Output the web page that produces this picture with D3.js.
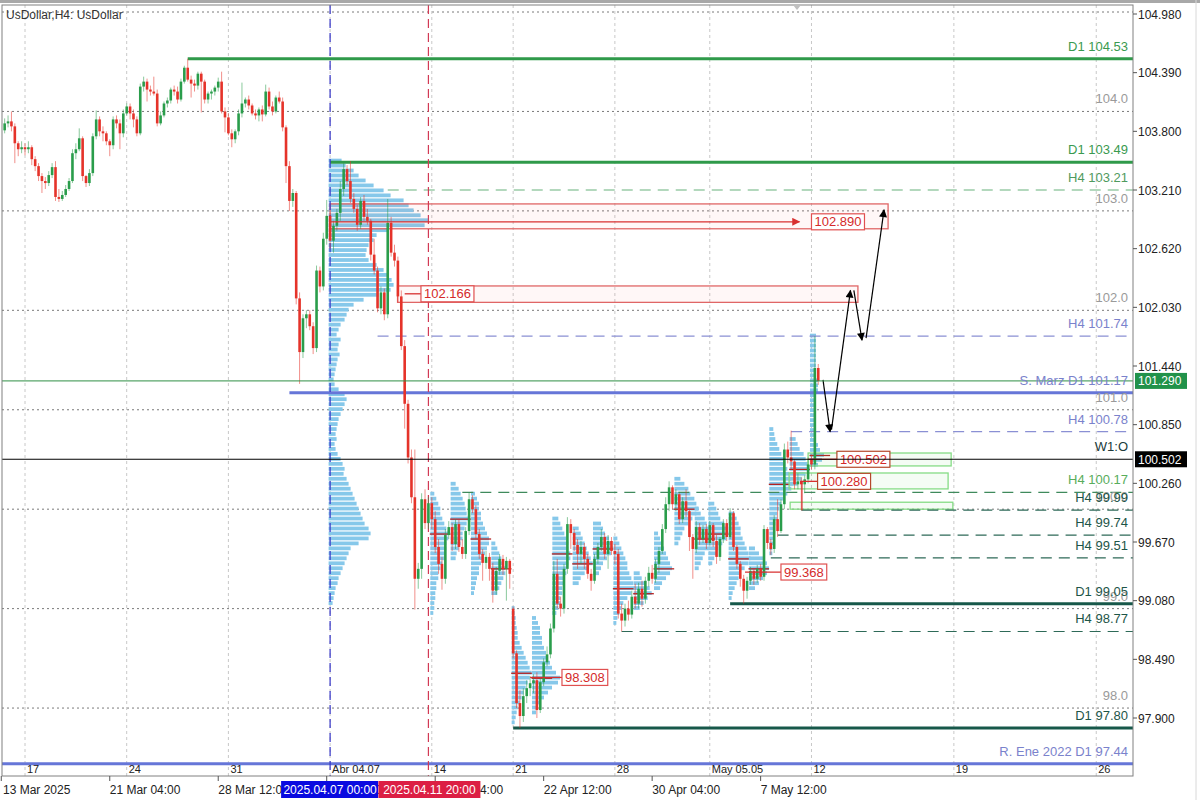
<!DOCTYPE html>
<html>
<head>
<meta charset="utf-8">
<title>UsDollar H4</title>
<script src="https://cdn.jsdelivr.net/npm/d3@7/dist/d3.min.js"></script>
<style>
  body { margin: 0; background: #fff; }
  svg { display: block; }
  text { font-family: "Liberation Sans", Arial, sans-serif; }
  .narrow { font-family: "Liberation Sans Narrow", "Arial Narrow", "DejaVu Sans Condensed", sans-serif; }
</style>
</head>
<body>
<svg id="chart" width="1200" height="800"></svg>
<script>
// H4 bars as [open, high, low, close], first bar index is -6 (13 Mar, 16:00)
var firstBar = -6;

var barsMar13 = [
  [103.81,103.93,103.78,103.88],[103.88,103.96,103.84,103.90],[103.90,104.00,103.80,103.85],
  [103.85,103.88,103.48,103.68],[103.68,103.70,103.55,103.62],[103.62,103.70,103.58,103.64]
];
var barsMar17 = [
  [103.64,103.68,103.56,103.62],[103.62,103.70,103.58,103.64],[103.64,103.66,103.46,103.52],
  [103.52,103.55,103.40,103.45],[103.45,103.48,103.30,103.35],[103.35,103.38,103.18,103.30],
  [103.30,103.34,103.22,103.28],[103.28,103.40,103.25,103.36],[103.36,103.48,103.33,103.44],
  [103.44,103.50,103.10,103.14],[103.14,103.22,103.09,103.12],[103.12,103.20,103.10,103.16],
  [103.16,103.26,103.14,103.22],[103.22,103.33,103.20,103.30],[103.30,103.62,103.28,103.58],
  [103.58,103.68,103.52,103.62],[103.62,103.83,103.60,103.73],[103.73,103.75,103.30,103.35],
  [103.35,103.36,103.24,103.28],[103.28,103.42,103.25,103.38],[103.38,103.78,103.35,103.75],
  [103.75,104.01,103.72,103.92],[103.92,103.95,103.75,103.80],[103.80,103.85,103.70,103.78],
  [103.78,103.80,103.66,103.70],[103.70,103.72,103.55,103.66],[103.66,103.95,103.62,103.92],
  [103.92,103.96,103.83,103.88],[103.88,103.92,103.62,103.78],[103.78,104.02,103.74,103.98]
];
var barsMar24 = [
  [103.98,104.08,103.96,104.05],[104.05,104.08,103.92,103.98],[103.98,104.02,103.84,103.92],
  [103.92,103.95,103.75,103.78],[103.78,104.28,103.76,104.25],[104.25,104.35,104.20,104.30],
  [104.30,104.33,104.10,104.22],[104.22,104.26,104.16,104.20],[104.20,104.35,104.16,104.18],
  [104.18,104.22,103.85,103.88],[103.88,104.00,103.86,103.96],[103.96,104.10,103.94,104.08],
  [104.08,104.14,104.04,104.11],[104.11,104.24,104.08,104.22],[104.22,104.26,104.16,104.20],
  [104.20,104.25,104.08,104.12],[104.12,104.33,104.10,104.30],[104.30,104.46,104.28,104.44],
  [104.44,104.53,104.30,104.32],[104.32,104.36,104.14,104.28],[104.28,104.32,104.20,104.26],
  [104.26,104.40,104.22,104.38],[104.38,104.40,103.99,104.30],[104.30,104.32,104.08,104.12],
  [104.12,104.20,104.08,104.18],[104.18,104.22,104.12,104.20],[104.20,104.26,104.16,104.24],
  [104.24,104.34,104.20,104.30],[104.30,104.40,103.98,104.00],[104.00,104.04,103.79,103.94]
];
var barsMar31 = [
  [103.94,103.98,103.76,103.78],[103.78,103.82,103.64,103.72],[103.72,103.82,103.68,103.80],
  [103.80,104.02,103.76,103.98],[103.98,104.29,103.94,104.08],[104.08,104.14,104.04,104.12],
  [104.12,104.16,104.02,104.06],[104.06,104.08,103.96,103.98],[103.98,104.02,103.92,103.96],
  [103.96,104.04,103.90,104.02],[104.02,104.06,103.90,103.97],[103.97,104.27,103.95,104.20],
  [104.20,104.24,104.02,104.05],[104.05,104.10,103.96,104.00],[104.00,104.16,103.98,104.14],
  [104.14,104.20,104.08,104.10],[104.10,104.14,103.80,103.84],[103.84,103.86,103.28,103.45],
  [103.45,103.50,103.00,103.10],[103.10,103.22,103.04,103.18],[103.18,103.20,102.06,102.12],
  [102.12,102.18,101.26,101.58],[101.58,101.96,101.52,101.92],[101.92,102.00,101.82,101.96],
  [101.96,102.00,101.80,101.84],[101.84,101.88,101.56,101.62],[101.62,102.45,101.58,102.40],
  [102.40,102.44,102.18,102.24],[102.24,102.78,102.20,102.72],[102.72,103.11,102.66,102.95]
];
var barsApr07 = [
  [102.95,102.98,102.62,102.70],[102.70,102.90,102.58,102.85],[102.85,103.02,102.80,102.98],
  [102.98,103.30,102.90,103.22],[103.22,103.48,103.15,103.42],[103.42,103.46,103.26,103.30],
  [103.30,103.50,103.08,103.12],[103.12,103.18,102.98,103.02],[103.02,103.06,102.80,102.86],
  [102.86,103.14,102.82,103.10],[103.10,103.16,102.90,102.94],[102.94,103.02,102.86,102.90],
  [102.90,102.92,102.50,102.56],[102.56,102.72,102.36,102.40],[102.40,102.44,101.98,102.02],
  [102.02,102.24,101.96,102.18],[102.18,102.22,101.90,101.96],[101.96,103.12,101.92,102.88],
  [102.88,102.94,102.54,102.58],[102.58,102.66,102.44,102.50],[102.50,102.54,102.08,102.14],
  [102.14,102.20,101.60,101.64],[101.64,101.70,100.81,101.06],[101.06,101.10,100.46,100.52],
  [100.52,100.60,100.06,100.12],[100.12,100.60,98.99,99.30],[99.30,99.46,99.20,99.40],
  [99.40,100.16,99.30,100.10],[100.10,100.20,99.80,99.86],[99.86,100.12,99.80,100.06]
];
var barsApr14 = [
  [100.06,100.12,99.80,99.90],[99.90,99.98,99.56,99.62],[99.62,99.70,99.35,99.45],
  [99.45,99.52,99.19,99.30],[99.30,99.80,99.25,99.74],[99.74,99.88,99.70,99.82],
  [99.82,99.86,99.58,99.65],[99.65,99.90,99.60,99.85],[99.85,99.90,99.57,99.62],
  [99.62,99.70,99.50,99.55],[99.55,99.82,99.50,99.78],[99.78,100.17,99.74,100.10],
  [100.10,100.14,99.96,100.00],[100.00,100.04,99.70,99.75],[99.75,99.80,99.50,99.55],
  [99.55,99.60,99.28,99.46],[99.46,99.58,99.40,99.52],[99.52,99.56,99.28,99.40],
  [99.40,99.46,99.06,99.18],[99.18,99.42,99.14,99.38],[99.38,99.55,99.34,99.50],
  [99.50,99.54,99.34,99.40],[99.40,99.52,99.08,99.48],[99.48,99.50,99.20,99.35]
];
var barsApr21 = [
  [99.00,99.02,98.50,98.55],[98.55,98.58,98.00,98.05],[98.05,98.18,97.80,97.92],
  [97.92,98.20,97.86,98.12],[98.12,98.28,98.05,98.20],[98.20,98.32,98.12,98.25],
  [98.25,98.34,98.15,98.28],[98.28,98.36,97.90,97.98],[97.98,98.30,97.95,98.26],
  [98.26,98.50,98.22,98.46],[98.46,98.62,98.42,98.54],[98.54,98.85,98.50,98.80],
  [98.80,99.48,98.76,99.35],[99.35,99.50,99.00,99.05],[99.05,99.12,98.92,99.00],
  [99.00,99.45,98.95,99.40],[99.40,99.92,99.35,99.85],[99.85,99.90,99.60,99.76],
  [99.76,99.80,99.58,99.64],[99.64,99.70,99.40,99.55],[99.55,99.68,99.45,99.62],
  [99.62,99.66,99.40,99.50],[99.50,99.55,99.30,99.35],[99.35,99.40,99.18,99.28],
  [99.28,99.55,99.25,99.50],[99.50,99.66,99.45,99.62],[99.62,99.80,99.58,99.72],
  [99.72,99.76,99.50,99.55],[99.55,99.74,99.40,99.68],[99.68,99.72,99.54,99.58]
];
var barsApr28 = [
  [99.58,99.65,99.45,99.55],[99.55,99.60,98.90,98.95],[98.95,99.05,98.77,98.88],
  [98.88,99.05,98.82,99.00],[99.00,99.08,98.88,98.94],[98.94,99.18,98.90,99.12],
  [99.12,99.25,99.00,99.05],[99.05,99.26,99.00,99.20],[99.20,99.28,99.02,99.10],
  [99.10,99.32,99.05,99.28],[99.28,99.42,99.22,99.36],[99.36,99.44,99.25,99.30],
  [99.30,99.50,99.26,99.45],[99.45,99.62,99.36,99.58],[99.58,99.85,99.55,99.80],
  [99.80,100.12,99.76,100.05],[100.05,100.28,99.98,100.22],[100.22,100.24,100.00,100.05],
  [100.05,100.20,99.98,100.15],[100.15,100.16,99.85,99.90],[99.90,100.12,99.86,100.08],
  [100.08,100.20,99.92,99.98],[99.98,100.00,99.58,99.72],[99.72,99.75,99.30,99.60],
  [99.60,99.88,99.56,99.82],[99.82,99.86,99.64,99.70],[99.70,99.84,99.66,99.80],
  [99.80,99.85,99.60,99.66]
];
var barsMay05 = [
  [99.66,99.88,99.64,99.84],[99.84,99.86,99.62,99.68],[99.68,99.74,99.45,99.52],
  [99.52,99.72,99.48,99.70],[99.70,99.90,99.66,99.86],[99.86,99.90,99.68,99.72],
  [99.72,100.01,99.70,99.96],[99.96,99.98,99.58,99.62],[99.62,99.64,99.40,99.45],
  [99.45,99.48,99.22,99.30],[99.30,99.34,99.05,99.18],[99.18,99.32,99.10,99.28],
  [99.28,99.42,99.24,99.38],[99.38,99.40,99.24,99.30],[99.30,99.44,99.26,99.40],
  [99.40,99.45,99.28,99.32],[99.32,99.84,99.28,99.80],[99.80,99.82,99.60,99.66],
  [99.66,99.70,99.54,99.60],[99.60,99.94,99.56,99.90],[99.90,100.10,99.72,99.78],
  [99.78,100.10,99.76,100.05],[100.05,100.66,100.00,100.60],[100.60,100.68,100.46,100.52],
  [100.52,100.79,100.40,100.48],[100.48,100.50,100.20,100.25],[100.25,100.36,100.20,100.28],
  [100.28,100.32,99.99,100.25],[100.25,100.34,100.16,100.30],[100.30,100.52,100.26,100.45]
];
var barsMay12 = [
  [100.50,100.55,100.40,100.45],[100.45,101.74,100.40,101.42],[101.42,101.46,101.25,101.29]
];

// volume profile Apr 7 - Apr 11, bins of 0.05 from the top price down
var profileTop = 103.50;
var profileVol = [13,17,25,30,37,45,55,62,75,80,85,92,100,96,60,48,45,40,38,37,40,48,55,60,63,65,62,50,35,25,
  20,18,16,12,10,8,12,10,9,11,9,8,7,6,5,6,10,16,18,16,14,12,10,9,8,7,8,6,7,9,
  12,14,16,15,18,20,22,24,26,28,30,32,34,36,40,42,40,30,22,20,18,16,14,12,10,9,7,6,5,4];

// daily profiles: start bar, top price, volumes per 0.05 bin
var dayAt = [120,126,132,138,144,150,156,162,168,174,180,186,192,198,202,208,214,220,226,232];
var dayTop = [100.15,100.25,100.15,99.65,99.00,98.90,99.90,99.80,99.85,99.70,99.35,99.75,100.30,100.00,100.05,99.95,99.60,100.80,100.70,101.74];
var dayVol = [
  [4,6,8,10,10,12,14,16,18,18,16,16,14,14,12,10,8,8,6,6,5,5,4,4,3],
  [5,8,10,12,14,15,16,18,16,14,12,12,10,8,6,5],
  [4,6,8,8,10,10,12,14,16,18,18,16,14,12,10,8,8,6,5,4,3],
  [4,6,8,10,12,14,14,12,10,8,6],
  [3,3,4,4,5,6,6,8,10,12,14,16,18,20,18,16,14,12,10,8,6,5,4,3],
  [4,6,8,8,10,10,12,14,16,18,20,24,28,26,20,16,12,8,6,4],
  [6,8,10,12,14,16,16,18,18,16,14,14,12,12,10,10,8,8,6,4],
  [6,8,10,12,14,16,18,20,16,12,8,6],
  [8,10,12,16,18,20,18,14,10,8,6],
  [4,6,8,10,12,14,14,16,18,20,22,18,14,10,8,6,4,3],
  [6,8,12,16,18,14,10,6],
  [4,6,8,10,12,14,16,18,16,12,8,6],
  [6,10,14,16,20,22,24,22,18,14,10,8,6,4],
  [4,6,10,12,14,16,18,16,14,10,8,6,4],
  [6,8,10,12,16,18,20,18,14,10,8,6,4],
  [6,8,10,12,12,14,16,18,20,22,20,16,12,10,8,6,4,3],
  [6,10,14,18,20,18,14,10,6],
  [4,5,6,8,10,12,14,16,18,20,22,24,22,18,14,12,10,8,8,6,5,5,4,4,3,3],
  [6,8,10,14,16,18,20,16,12,8],
  [6,6,6,6,6,6,6,6,6,8,8,8,6,6,6,6,6,6,6,6,6,6,8,10,14,12,8]
];

// horizontal levels
var levelPrices = [104.53,103.49,103.21,101.74,101.17,100.78,100.17,99.99,99.74,99.51,99.05,98.77,97.80,97.44];
var levelNames = ['D1 104.53','D1 103.49','H4 103.21','H4 101.74','S. Marz D1 101.17','H4 100.78','H4 100.17',
  'H4 99.99','H4 99.74','H4 99.51','D1 99.05','H4 98.77','D1 97.80','R. Ene 2022 D1 97.44'];
var levelFrom = [48,90,107,104,78,226,129,229,222,220,208,176,144,-8];
var levelKind = ['d1g','d1g','h4p','h4b','sb','h4b','h4l','h4d','h4d','h4d','d1d','h4d','d1d','sb'];

var roundPrices = [105,104,103,102,101,100,99,98];

// supply / demand zones
var zoneTop = [103.07,102.245,100.565,100.364,100.07];
var zoneBottom = [102.82,102.08,100.435,100.204,100.00];
var zoneFrom = [90,109.9,231,225.4,225.7];
var zoneTo = [254.6,245.7,273.2,272.3,273.7];
var zoneType = ['supply','supply','demand','demand','demand'];

// price callouts
var calloutPrices = [102.890,102.166,100.502,100.280,99.368,98.308];
var calloutFrom = [90,112,231,228.6,212.4,149];
var calloutAt = [232,116.8,239.5,233.8,223,158.4];
var calloutDrop = [null,null,null,99.99,null,null];

// projected path
var arrowLegs = [
  [235.4,101.30,237.5,100.78],
  [237.9,100.80,243.5,102.20],
  [244.5,102.20,246.9,101.70],
  [248.1,101.72,253.4,103.01]
];

var priceTicks = [104.98,104.39,103.80,103.21,102.62,102.03,101.44,100.85,100.26,99.67,99.08,98.49,97.90];
var weekIdx = [0,30,60,90,120,144,174,202,232,274,316];
var weekNames = ['17','24','31','Abr 04.07','14','21','28','May 05.05','12','19','26'];
var timeIdx = [-7,25,57,89,121,153,185,217];
var timeNames = ['13 Mar 2025','21 Mar 04:00','28 Mar 12:00','4 Apr 20:00','14 Apr 04:00','22 Apr 12:00','30 Apr 04:00','7 May 12:00'];
var markerIdx = [90,119];
var markerNames = ['2025.04.07 00:00','2025.04.11 20:00'];
var lastPrice = 101.290;
var weekOpen = 100.502;

// ---- drawing ----
var svg = d3.select('#chart');
var frame = { left: 2, right: 1133, top: 5, bottom: 776 };

var x = d3.scaleLinear().domain([0, 234]).range([25, 818.26]);
var y = d3.scaleLinear().domain([97.90, 104.98]).range([718, 14]);
var vol = d3.scaleLinear().domain([0, 100]).range([0, 100]);

var BULL = '#2a9d4b', BEAR = '#e5332a';
var PROFILE = '#86c8ea';

var defs = svg.append('defs');
defs.append('clipPath').attr('id', 'plot-clip')
  .append('rect')
  .attr('x', frame.left).attr('y', frame.top)
  .attr('width', frame.right - frame.left).attr('height', frame.bottom - frame.top);
addMarker('arrow-black', '#000');
addMarker('arrow-red', '#d83030');

svg.append('rect').attr('width', 1200).attr('height', 800).attr('fill', '#fff');

var plot = svg.append('g').attr('clip-path', 'url(#plot-clip)');

// dotted grid: round prices and week separators
plot.append('g').selectAll('line').data(roundPrices).enter().append('line')
  .attr('x1', frame.left).attr('x2', frame.right)
  .attr('y1', function (p) { return y(p); }).attr('y2', function (p) { return y(p); })
  .attr('stroke', '#7a7a7a').attr('stroke-dasharray', '2,3');
plot.append('g').selectAll('line').data(weekIdx).enter().append('line')
  .attr('x1', function (i) { return x(i); }).attr('x2', function (i) { return x(i); })
  .attr('y1', frame.top).attr('y2', frame.bottom)
  .attr('stroke', '#c8c8c8').attr('stroke-dasharray', '3,3');

// volume profiles
var bigBins = profileVol.map(function (v, k) { return { p: profileTop - k * 0.05, v: v, at: 90 }; });
var dayBins = [];
dayAt.forEach(function (at, d) {
  dayVol[d].forEach(function (v, k) { dayBins.push({ p: dayTop[d] - k * 0.05, v: v, at: at }); });
});
plot.append('g').selectAll('rect').data(bigBins.concat(dayBins)).enter().append('rect')
  .attr('x', function (b) { return x(b.at) - 1.5; })
  .attr('y', function (b) { return y(b.p + 0.025); })
  .attr('width', function (b) { return vol(b.v); })
  .attr('height', function (b) { return Math.abs(y(b.p - 0.025) - y(b.p + 0.025)) - 1.2; })
  .attr('fill', PROFILE);

// daily point of control
var pocs = dayAt.map(function (at, d) {
  var k = d3.maxIndex(dayVol[d]);
  return { at: at, p: dayTop[d] - k * 0.05 };
});
plot.append('g').selectAll('line').data(pocs).enter().append('line')
  .attr('x1', function (d) { return x(d.at) - 2; }).attr('x2', function (d) { return x(d.at + 5.5); })
  .attr('y1', function (d) { return y(d.p); }).attr('y2', function (d) { return y(d.p); })
  .attr('stroke', '#b32020').attr('stroke-width', 1.3);

// zones
plot.append('g').selectAll('rect').data(zoneTop).enter().append('rect')
  .attr('x', function (t, k) { return x(zoneFrom[k]); })
  .attr('y', function (t) { return y(t); })
  .attr('width', function (t, k) { return x(zoneTo[k]) - x(zoneFrom[k]); })
  .attr('height', function (t, k) { return y(zoneBottom[k]) - y(t); })
  .attr('fill', function (t, k) { return zoneType[k] === 'supply' ? 'rgba(255,120,120,0.06)' : 'rgba(120,220,120,0.08)'; })
  .attr('stroke', function (t, k) { return zoneType[k] === 'supply' ? '#e06666' : '#86dc86'; })
  .attr('stroke-width', 1.3);

// level lines
var levelStyle = {
  d1g: { c: '#2f9a4a', w: 3, dash: null, t: '#3a9a50' },
  d1d: { c: '#17584a', w: 3, dash: null, t: '#1d5548' },
  h4p: { c: '#9acca8', w: 1.5, dash: '11,7', t: '#4f9a5e' },
  h4l: { c: '#3f8a5c', w: 1.2, dash: '11,7', t: '#58ad5c' },
  h4d: { c: '#2e6a58', w: 1.2, dash: '11,7', t: '#1d5548' },
  h4b: { c: '#8a90d4', w: 1.2, dash: '11,7', t: '#7a82cc' },
  sb: { c: '#6676d8', w: 3, dash: null, t: '#7a82cc' }
};
plot.append('g').selectAll('line').data(levelPrices).enter().append('line')
  .attr('x1', function (p, k) { return Math.max(frame.left, x(levelFrom[k])); })
  .attr('x2', frame.right)
  .attr('y1', function (p) { return y(p); }).attr('y2', function (p) { return y(p); })
  .attr('stroke', function (p, k) { return levelStyle[levelKind[k]].c; })
  .attr('stroke-width', function (p, k) { return levelStyle[levelKind[k]].w; })
  .attr('stroke-dasharray', function (p, k) { return levelStyle[levelKind[k]].dash; });

// time markers
plot.append('g').selectAll('line').data(markerIdx).enter().append('line')
  .attr('x1', function (i) { return x(i); }).attr('x2', function (i) { return x(i); })
  .attr('y1', frame.top).attr('y2', frame.bottom)
  .attr('stroke', function (i, k) { return k === 0 ? '#3434c8' : '#d23a55'; })
  .attr('stroke-width', 1.2)
  .attr('stroke-dasharray', '9,5');

// candles
var candles = [].concat(barsMar13, barsMar17, barsMar24, barsMar31, barsApr07,
  barsApr14, barsApr21, barsApr28, barsMay05, barsMay12)
  .map(function (b, k) { return { i: firstBar + k, o: b[0], h: b[1], l: b[2], c: b[3] }; });
function candleColor(d) { return d.c >= d.o ? BULL : BEAR; }
var cg = plot.append('g').selectAll('g').data(candles).enter().append('g');
cg.append('line')
  .attr('x1', function (d) { return x(d.i); }).attr('x2', function (d) { return x(d.i); })
  .attr('y1', function (d) { return y(d.h); }).attr('y2', function (d) { return y(d.l); })
  .attr('stroke', candleColor).attr('stroke-opacity', 0.55);
cg.append('rect')
  .attr('x', function (d) { return x(d.i) - 1.3; })
  .attr('width', 2.6)
  .attr('y', function (d) { return y(Math.max(d.o, d.c)); })
  .attr('height', function (d) { return Math.max(1, Math.abs(y(d.o) - y(d.c))); })
  .attr('fill', candleColor);

// callouts
var co = plot.append('g').selectAll('g').data(calloutPrices).enter().append('g');
co.append('line')
  .attr('x1', function (p, k) { return x(calloutFrom[k]); })
  .attr('x2', function (p, k) { return k === 0 ? x(calloutAt[k]) - 12 : x(calloutAt[k]); })
  .attr('y1', function (p) { return y(p); }).attr('y2', function (p) { return y(p); })
  .attr('stroke', '#d83030').attr('stroke-width', 1.3)
  .attr('marker-end', function (p, k) { return k === 0 ? 'url(#arrow-red)' : null; });
co.filter(function (p, k) { return calloutDrop[k] !== null; }).append('line')
  .attr('x1', function (p) { return x(calloutFrom[calloutPrices.indexOf(p)]) + 2; })
  .attr('x2', function (p) { return x(calloutFrom[calloutPrices.indexOf(p)]) + 2; })
  .attr('y1', function (p) { return y(p); })
  .attr('y2', function (p) { return y(calloutDrop[calloutPrices.indexOf(p)]); })
  .attr('stroke', '#d83030').attr('stroke-width', 1.2);
var coBox = co.append('rect')
  .attr('x', function (p, k) { return x(calloutAt[k]); })
  .attr('y', function (p) { return y(p) - 8; })
  .attr('height', 16)
  .attr('fill', '#fff')
  .attr('stroke', function (p, k) { return (k === 2 || k === 3) ? '#b5482a' : '#e05050'; })
  .attr('stroke-width', 1.2);
var coText = co.append('text')
  .attr('x', function (p, k) { return x(calloutAt[k]) + 3; })
  .attr('y', function (p) { return y(p) + 4.5; })
  .attr('font-size', 13).attr('fill', '#d42a2a')
  .text(function (p) { return p.toFixed(3); });
coText.each(function (p, k) {
  var w = this.getComputedTextLength();
  d3.select(coBox.nodes()[k]).attr('width', w + 6);
});

// projected path arrows
plot.append('g').selectAll('line').data(arrowLegs).enter().append('line')
  .attr('x1', function (a) { return x(a[0]); }).attr('y1', function (a) { return y(a[1]); })
  .attr('x2', function (a) { return x(a[2]); }).attr('y2', function (a) { return y(a[3]); })
  .attr('stroke', '#000').attr('stroke-width', 1.2)
  .attr('marker-end', 'url(#arrow-black)');

// bid line and weekly open
plot.append('line').attr('x1', frame.left).attr('x2', frame.right)
  .attr('y1', y(lastPrice)).attr('y2', y(lastPrice))
  .attr('stroke', '#2f8f45').attr('stroke-width', 1);
plot.append('line').attr('x1', frame.left).attr('x2', frame.right)
  .attr('y1', y(weekOpen)).attr('y2', y(weekOpen))
  .attr('stroke', '#000').attr('stroke-width', 1.2);

// labels of levels (the 105.0 round level sits above the visible area, so no label)
var labels = plot.append('g').attr('text-anchor', 'end').attr('class', 'narrow').attr('font-size', 13);
labels.selectAll('text.round').data(roundPrices.filter(function (p) { return p < 105; })).enter().append('text')
  .attr('x', 1128).attr('y', function (p) { return y(p) - 8; })
  .attr('fill', '#9a9a9a')
  .text(function (p) { return p.toFixed(1); });
labels.selectAll('text.level').data(levelPrices).enter().append('text')
  .attr('x', 1128).attr('y', function (p) { return y(p) - 8; })
  .attr('fill', function (p, k) { return levelStyle[levelKind[k]].t; })
  .text(function (p, k) { return levelNames[k]; });
labels.append('text').attr('x', 1128).attr('y', y(weekOpen) - 8)
  .attr('fill', '#203a3a').text('W1:O');

// week labels inside the plot
plot.append('g').attr('class', 'narrow').attr('font-size', 11).attr('fill', '#222')
  .selectAll('text').data(weekIdx).enter().append('text')
  .attr('x', function (i) { return x(i) + 2; }).attr('y', 773)
  .text(function (i, k) { return weekNames[k]; });

// frame
svg.append('rect')
  .attr('x', frame.left).attr('y', frame.top)
  .attr('width', frame.right - frame.left).attr('height', frame.bottom - frame.top)
  .attr('fill', 'none').attr('stroke', '#808080');
svg.append('line').attr('x1', 0).attr('x2', 1200).attr('y1', 1.5).attr('y2', 1.5)
  .attr('stroke', '#a8a8a8').attr('stroke-width', 3);
svg.append('line').attr('x1', 1196).attr('x2', 1196).attr('y1', 0).attr('y2', 800)
  .attr('stroke', '#d8d8d8');
svg.append('path').attr('d', 'M793,5 L801,5 L797,10 Z').attr('fill', '#c0c0c0');

svg.append('text').attr('x', 6).attr('y', 19).attr('font-size', 12).attr('fill', '#333')
  .text('UsDollar,H4:  UsDollar');

// price axis
var pa = svg.append('g');
pa.selectAll('line').data(priceTicks).enter().append('line')
  .attr('x1', frame.right).attr('x2', frame.right + 4)
  .attr('y1', function (p) { return y(p); }).attr('y2', function (p) { return y(p); })
  .attr('stroke', '#555');
pa.selectAll('text').data(priceTicks).enter().append('text')
  .attr('x', 1138).attr('y', function (p) { return y(p) + 4.5; })
  .attr('font-size', 12).attr('fill', '#222')
  .text(function (p) { return p.toFixed(3); });
priceTag(lastPrice, '#21924a');
priceTag(weekOpen, '#000');

// time axis
var ta = svg.append('g');
ta.selectAll('line').data(timeIdx).enter().append('line')
  .attr('x1', function (i) { return x(i); }).attr('x2', function (i) { return x(i); })
  .attr('y1', frame.bottom).attr('y2', frame.bottom + 5)
  .attr('stroke', '#555');
ta.selectAll('text').data(timeIdx).enter().append('text')
  .attr('x', function (i) { return Math.max(3, x(i)); }).attr('y', 794)
  .attr('font-size', 12).attr('fill', '#222')
  .text(function (i, k) { return timeNames[k]; });
var mk = ta.selectAll('g.marker').data(markerIdx).enter().append('g');
mk.append('rect')
  .attr('x', function (i, k) { return k === 0 ? x(i) - 49 : x(i) - 50; })
  .attr('y', 781).attr('height', 17)
  .attr('width', function (i, k) { return k === 0 ? 97 : 102; })
  .attr('fill', function (i, k) { return k === 0 ? '#0a0ae0' : '#dc1f44'; });
mk.append('text')
  .attr('x', function (i, k) { return k === 0 ? x(i) : x(i) + 1; }).attr('y', 794)
  .attr('text-anchor', 'middle').attr('font-size', 12).attr('fill', '#fff')
  .text(function (i, k) { return markerNames[k]; });

function priceTag(p, fill) {
  var g = svg.append('g');
  g.append('rect').attr('x', frame.right + 2).attr('y', y(p) - 8)
    .attr('width', 52).attr('height', 16).attr('fill', fill);
  g.append('text').attr('x', 1138).attr('y', y(p) + 4.5)
    .attr('font-size', 12).attr('fill', '#fff').text(p.toFixed(3));
}

function addMarker(id, color) {
  defs.append('marker')
    .attr('id', id)
    .attr('viewBox', '0 0 10 10')
    .attr('refX', 9).attr('refY', 5)
    .attr('markerWidth', 10).attr('markerHeight', 8)
    .attr('markerUnits', 'userSpaceOnUse')
    .attr('orient', 'auto')
    .append('path').attr('d', 'M0,0 L10,5 L0,10 Z').attr('fill', color);
}
</script>
</body>
</html>
